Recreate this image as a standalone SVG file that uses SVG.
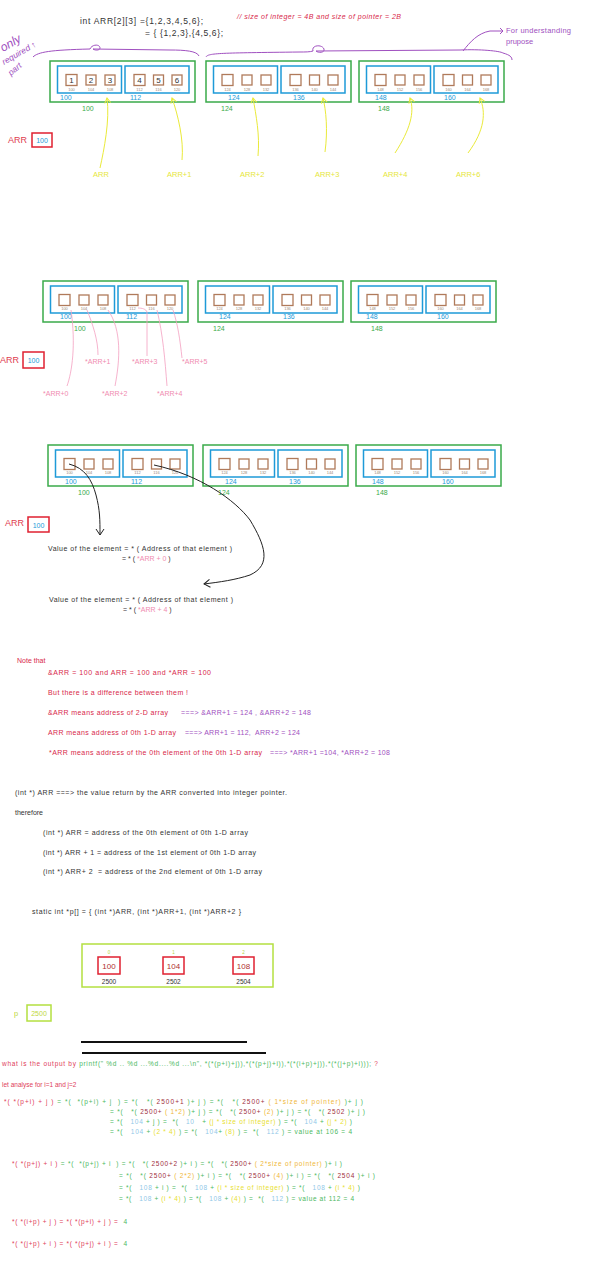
<svg xmlns="http://www.w3.org/2000/svg" width="600" height="1269" viewBox="0 0 600 1269">
<style>
text{font-family:"Liberation Sans",Arial,sans-serif;white-space:pre}
.gb{fill:none;stroke:#3aaa4a;stroke-width:1.5}
.bb{fill:none;stroke:#1e9ad8;stroke-width:1.5}
.sq{fill:#fff;stroke:#b07a5a;stroke-width:1.3}
.ad{font-size:4px;fill:#9a8878;text-anchor:middle}
.bl{font-size:7px;fill:#1e9ad8}
.gl{font-size:7px;fill:#3aaa4a}
.dk{fill:#333}
.rd{fill:#d8284a}
.pu{fill:#a050c0}
.pk{fill:#f08cb0}
.yl{fill:#e6e63a}
.R{fill:#e0405a}.G{fill:#4cb860}.DR{fill:#a03040}.O{fill:#f0b838}.LB{fill:#90c8e8}.Y{fill:#e8e030}
.ycur{fill:none;stroke:#eaea3a;stroke-width:1}
.pcur{fill:none;stroke:#f4a0c0;stroke-width:0.8}
.kcur{fill:none;stroke:#222;stroke-width:1}
</style>
<defs>
<g id="blk">
<rect class="gb" x="0" y="0" width="145" height="41"/>
<rect class="bb" x="7.5" y="5" width="64" height="27"/>
<rect class="bb" x="75" y="5" width="64" height="27"/>
<rect class="sq" x="16" y="13.5" width="11" height="11"/>
<rect class="sq" x="36" y="14" width="10" height="10"/>
<rect class="sq" x="55" y="14" width="10" height="10"/>
<rect class="sq" x="84" y="13.5" width="11" height="11"/>
<rect class="sq" x="103.5" y="14" width="10" height="10"/>
<rect class="sq" x="122" y="14" width="10" height="10"/>
</g>
<marker id="ya" markerWidth="8" markerHeight="8" refX="6" refY="4" orient="auto" markerUnits="userSpaceOnUse"><path d="M1,1 L6,4 L1,7" fill="none" stroke="#eaea3a" stroke-width="1"/></marker>
<marker id="ka" markerWidth="10" markerHeight="10" refX="7" refY="5" orient="auto" markerUnits="userSpaceOnUse"><path d="M1,1 L7,5 L1,9" fill="none" stroke="#222" stroke-width="1"/></marker>
</defs>
<rect width="600" height="1269" fill="#fff"/>

<!-- header -->
<g id="header">
<text class="dk" x="80" y="24" font-size="8.5" textLength="123">int ARR[2][3] ={1,2,3,4,5,6};</text>
<text class="dk" x="145" y="36" font-size="8.5" textLength="78">= { {1,2,3},{4,5,6};</text>
<text class="rd" x="237" y="19" font-size="7" font-style="italic" textLength="164">// size of integer = 4B and size of pointer = 2B</text>
<text class="pu" x="506" y="33" font-size="7.5" textLength="65">For understanding</text>
<text class="pu" x="506" y="44" font-size="7.5">prupose</text>
<g fill="#a050c0" font-style="italic">
<text transform="translate(3,52) rotate(-30)" font-size="12">only</text>
<text transform="translate(4,65) rotate(-30)" font-size="8.5">required ↑</text>
<text transform="translate(11,76) rotate(-40)" font-size="8.5">part</text>
</g>
<path d="M33,57 C38,52 50,50 90,49 C92,44 100,44 100,48 C100,50 96,51 93,49 L170,50 C185,50 197,51 199,56 M206,57 C208,53 220,53 300,52 C305,52 310,52 313,51 C311,45 322,44 324,49 C325,53 318,53 316,51 L460,50 C480,49 500,51 503,53 C510,55 512,57 512,60 M463,51 C470,42 478,33 490,31 L503,31 M500,28 L503,31 L500,34" fill="none" stroke="#a050c0" stroke-width="1"/>
</g>

<!-- section 1 -->
<g id="s1-b1">
<use href="#blk" x="50" y="61"/>
<g font-size="8" class="dk" text-anchor="middle"><text x="71.5" y="83">1</text><text x="91" y="83">2</text><text x="110" y="83">3</text><text x="139.5" y="83">4</text><text x="158.5" y="83">5</text><text x="177" y="83">6</text></g>
<g class="ad"><text x="71.5" y="91">100</text><text x="91" y="91">104</text><text x="110" y="91">108</text><text x="139.5" y="91">112</text><text x="158.5" y="91">116</text><text x="177" y="91">120</text></g>
<text class="bl" x="60" y="100">100</text><text class="bl" x="130" y="100">112</text>
<text class="gl" x="82" y="111">100</text>
</g>
<g id="s1-b2">
<use href="#blk" x="206" y="61"/>
<g class="ad"><text x="227.5" y="91">124</text><text x="247" y="91">128</text><text x="266" y="91">132</text><text x="295.5" y="91">136</text><text x="314.5" y="91">140</text><text x="333" y="91">144</text></g>
<text class="bl" x="228" y="100">124</text><text class="bl" x="293" y="100">136</text>
<text class="gl" x="221" y="111">124</text>
</g>
<g id="s1-b3">
<use href="#blk" x="359" y="61"/>
<g class="ad"><text x="380.5" y="91">148</text><text x="400" y="91">152</text><text x="419" y="91">156</text><text x="448.5" y="91">160</text><text x="467.5" y="91">164</text><text x="486" y="91">168</text></g>
<text class="bl" x="375" y="100">148</text><text class="bl" x="444" y="100">160</text>
<text class="gl" x="378" y="111">148</text>
</g>
<g id="s1-arr">
<text x="8" y="143" font-size="9" fill="#e04050">ARR</text>
<rect x="32" y="133" width="20" height="14" fill="#fff" stroke="#e02030" stroke-width="1.5"/>
<text class="bl" x="42" y="143" text-anchor="middle" font-size="8">100</text>
</g>
<g id="s1-labels" class="yl" font-size="7.5">
<text x="93" y="177">ARR</text><text x="167" y="177">ARR+1</text><text x="240" y="177">ARR+2</text><text x="315" y="177">ARR+3</text><text x="383" y="177">ARR+4</text><text x="456" y="177">ARR+6</text>
</g>
<g id="s1-connectors">
<path class="ycur" marker-end="url(#ya)" d="M100,168 C104,150 110,120 107,98"/>
<path class="ycur" marker-end="url(#ya)" d="M182,160 C184,140 178,115 172,98"/>
<path class="ycur" marker-end="url(#ya)" d="M258,156 C260,135 256,115 253,98"/>
<path class="ycur" marker-end="url(#ya)" d="M325,152 C328,130 326,110 323,98"/>
<path class="ycur" marker-end="url(#ya)" d="M395,153 C410,130 415,112 410,98"/>
<path class="ycur" marker-end="url(#ya)" d="M468,153 C485,130 486,112 480,98"/>
</g>

<!-- section 2 -->
<g id="s2-b1">
<use href="#blk" x="43" y="281"/>
<g class="ad"><text x="64.5" y="310">100</text><text x="84" y="310">104</text><text x="103" y="310">108</text><text x="132.5" y="310">112</text><text x="151.5" y="310">116</text><text x="170" y="310">120</text></g>
<text class="bl" x="60" y="319">100</text><text class="bl" x="126" y="319">112</text>
<text class="gl" x="74" y="331">100</text>
</g>
<g id="s2-b2">
<use href="#blk" x="198" y="281"/>
<g class="ad"><text x="219.5" y="310">124</text><text x="239" y="310">128</text><text x="258" y="310">132</text><text x="287.5" y="310">136</text><text x="306.5" y="310">140</text><text x="325" y="310">144</text></g>
<text class="bl" x="219" y="319">124</text><text class="bl" x="283" y="319">136</text>
<text class="gl" x="213" y="331">124</text>
</g>
<g id="s2-b3">
<use href="#blk" x="351" y="281"/>
<g class="ad"><text x="372.5" y="310">148</text><text x="392" y="310">152</text><text x="411" y="310">156</text><text x="440.5" y="310">160</text><text x="459.5" y="310">164</text><text x="478" y="310">168</text></g>
<text class="bl" x="366" y="319">148</text><text class="bl" x="437" y="319">160</text>
<text class="gl" x="371" y="331">148</text>
</g>
<g id="s2-arr">
<text x="0" y="363" font-size="9" fill="#e04050">ARR</text>
<rect x="23" y="352" width="21" height="16" fill="#fff" stroke="#e02030" stroke-width="1.5"/>
<text class="bl" x="33.5" y="363" text-anchor="middle" font-size="8">100</text>
</g>
<g id="s2-labels" class="pk" font-size="7">
<text x="43" y="396">*ARR+0</text><text x="85" y="364">*ARR+1</text><text x="102" y="396">*ARR+2</text><text x="132" y="364">*ARR+3</text><text x="157" y="396">*ARR+4</text><text x="182" y="364">*ARR+5</text>
</g>
<g id="s2-connectors">
<path class="pcur" d="M67,386 C72,372 76,345 71,310"/>
<path class="pcur" d="M98,355 C98,340 93,325 87,310"/>
<path class="pcur" d="M115,386 C120,360 122,330 108,310"/>
<path class="pcur" d="M147,356 L147,312 C146,309 142,308 138,308"/>
<path class="pcur" d="M167,386 C165,360 163,335 157,310"/>
<path class="pcur" d="M182,358 C180,340 178,325 173,310"/>
</g>

<!-- section 3 -->
<g id="s3-b1">
<use href="#blk" x="48" y="445"/>
<g class="ad"><text x="69.5" y="474">100</text><text x="89" y="474">104</text><text x="108" y="474">108</text><text x="137.5" y="474">112</text><text x="156.5" y="474">116</text><text x="175" y="474">120</text></g>
<text class="bl" x="65" y="484">100</text><text class="bl" x="131" y="484">112</text>
<text class="gl" x="78" y="495">100</text>
</g>
<g id="s3-b2">
<use href="#blk" x="203" y="445"/>
<g class="ad"><text x="224.5" y="474">124</text><text x="244" y="474">128</text><text x="263" y="474">132</text><text x="292.5" y="474">136</text><text x="311.5" y="474">140</text><text x="330" y="474">144</text></g>
<text class="bl" x="225" y="484">124</text><text class="bl" x="289" y="484">136</text>
<text class="gl" x="218" y="495">124</text>
</g>
<g id="s3-b3">
<use href="#blk" x="356" y="445"/>
<g class="ad"><text x="377.5" y="474">148</text><text x="397" y="474">152</text><text x="416" y="474">156</text><text x="445.5" y="474">160</text><text x="464.5" y="474">164</text><text x="483" y="474">168</text></g>
<text class="bl" x="372" y="484">148</text><text class="bl" x="442" y="484">160</text>
<text class="gl" x="376" y="495">148</text>
</g>
<g id="s3-arr">
<text x="5" y="526" font-size="9" fill="#e04050">ARR</text>
<rect x="28" y="517" width="21" height="15" fill="#fff" stroke="#e02030" stroke-width="1.5"/>
<text class="bl" x="38.5" y="527.5" text-anchor="middle" font-size="8">100</text>
</g>
<g id="s3-connectors">
<path class="kcur" marker-end="url(#ka)" d="M69,464 C85,468 92,480 96,495 C100,510 100,520 100,535"/>
<path class="kcur" marker-end="url(#ka)" d="M154,465 C200,475 235,500 250,520 C265,545 272,565 250,575 C235,580 220,582 204,584"/>
</g>
<g id="s3-text" font-size="7" class="dk">
<text x="48" y="551" textLength="184">Value of the element = * ( Address of that element )</text>
<text x="122" y="561">= * ( <tspan class="pk">*ARR + 0 </tspan>)</text>
<text x="49" y="602" textLength="184">Value of the element = * ( Address of that element )</text>
<text x="123" y="612">= * ( <tspan class="pk">*ARR + 4 </tspan>)</text>
</g>

<!-- note section -->
<g id="note" font-size="7">
<text class="rd" x="17" y="663">Note that</text>
<text class="rd" x="48" y="675" textLength="163">&amp;ARR = 100 and ARR = 100 and *ARR = 100</text>
<text class="rd" x="48" y="695" textLength="140">But there is a difference between them !</text>
<text class="rd" x="48" y="715" textLength="120">&amp;ARR means address of 2-D array</text>
<text class="pu" x="181" y="715" textLength="130">===&gt; &amp;ARR+1 = 124 , &amp;ARR+2 = 148</text>
<text class="rd" x="48" y="735" textLength="128">ARR means address of 0th 1-D array</text>
<text class="pu" x="185" y="735" textLength="115">===&gt; ARR+1 = 112,  ARR+2 = 124</text>
<text class="rd" x="49" y="755" textLength="213">*ARR means address of the 0th element of the 0th 1-D array</text>
<text class="pu" x="270" y="755" textLength="120">===&gt; *ARR+1 =104, *ARR+2 = 108</text>
</g>

<!-- int* section -->
<g id="cast" font-size="7" class="dk">
<text x="15" y="795" textLength="272">(int *) ARR ===&gt; the value return by the ARR converted into integer pointer.</text>
<text x="15" y="815">therefore</text>
<text x="43" y="835" textLength="205">(int *) ARR = address of the 0th element of 0th 1-D array</text>
<text x="43" y="855" textLength="213">(int *) ARR + 1 = address of the 1st element of 0th 1-D array</text>
<text x="43" y="874" textLength="219">(int *) ARR+ 2  = address of the 2nd element of 0th 1-D array</text>
<text x="32" y="914" textLength="209">static int *p[] = { (int *)ARR, (int *)ARR+1, (int *)ARR+2 }</text>
</g>

<!-- pointer array -->
<g id="parr">
<rect x="82" y="944" width="191" height="43" fill="none" stroke="#b4e040" stroke-width="1.5"/>
<g fill="#fff" stroke="#e02030" stroke-width="1.5">
<rect x="98" y="957" width="22" height="17"/><rect x="163" y="957" width="21" height="17"/><rect x="233" y="957" width="21" height="17"/>
</g>
<g font-size="8" fill="#b03030" text-anchor="middle"><text x="109" y="968.5">100</text><text x="173.5" y="968.5">104</text><text x="243.5" y="968.5">108</text></g>
<g font-size="4.5" fill="#b4d840" text-anchor="middle"><text x="109" y="954">0</text><text x="173.5" y="954">1</text><text x="243.5" y="954">2</text></g>
<g font-size="6.5" class="dk" text-anchor="middle"><text x="109" y="984">2500</text><text x="173.5" y="984">2502</text><text x="243.5" y="984">2504</text></g>
</g>
<g id="pvar">
<text x="14" y="1016" font-size="7.5" fill="#c0d840">p</text>
<rect x="27" y="1005" width="24" height="16" fill="#fff" stroke="#b4e040" stroke-width="1.5"/>
<text x="39" y="1016" font-size="7" fill="#c0d840" text-anchor="middle">2500</text>
</g>
<g id="rules" stroke="#111" stroke-width="1.8">
<line x1="81" y1="1042" x2="247" y2="1042"/>
<line x1="82" y1="1053" x2="266" y2="1053"/>
</g>

<!-- question -->
<g id="question" font-size="6.5">
<text x="2" y="1066" textLength="376"><tspan class="R">what is the output by </tspan><tspan class="G">printf(" %d .. %d ...%d....%d ...\n", *(*(p+i)+j)),*(*(p+j)+i)),*(*(i+p)+j)),*(*(j+p)+i))); </tspan><tspan class="R">?</tspan></text>
<text class="R" x="2" y="1087">let analyse for i=1 and j=2</text>
</g>

<!-- analysis 1 -->
<g id="eq1" font-size="6.5">
<text x="4" y="1104" textLength="359"><tspan class="R">*( *(p+i) + j )</tspan><tspan class="G"> = *(  *(p+i) + j  ) = *(   *( </tspan><tspan class="DR">2500+1</tspan><tspan class="G"> )+ j ) = *(   *( </tspan><tspan class="DR">2500+</tspan><tspan class="O"> ( 1*size of pointer) </tspan><tspan class="G">)+ j )</tspan></text>
<text x="110" y="1114" textLength="255"><tspan class="G">= *(   *( </tspan><tspan class="DR">2500+</tspan><tspan class="O"> ( 1*2) </tspan><tspan class="G">)+ j ) = *(   *( </tspan><tspan class="DR">2500+</tspan><tspan class="O"> (2) </tspan><tspan class="G">)+ j ) = *(   *( </tspan><tspan class="DR">2502</tspan><tspan class="G"> )+ j )</tspan></text>
<text x="110" y="1124" textLength="242"><tspan class="G">= *(   </tspan><tspan class="LB">104</tspan><tspan class="G"> + j ) =  *(   </tspan><tspan class="LB">10   </tspan><tspan class="G">+ </tspan><tspan class="Y">(j * size of integer)</tspan><tspan class="G"> ) = *(   </tspan><tspan class="LB">104</tspan><tspan class="G"> + </tspan><tspan class="Y">(j * 2)</tspan><tspan class="G"> )</tspan></text>
<text x="110" y="1134" textLength="242"><tspan class="G">= *(   </tspan><tspan class="LB">104</tspan><tspan class="G"> + </tspan><tspan class="Y">(2 * 4)</tspan><tspan class="G"> ) = *(   </tspan><tspan class="LB">104</tspan><tspan class="G">+ </tspan><tspan class="Y">(8)</tspan><tspan class="G"> ) =  *(   </tspan><tspan class="LB">112</tspan><tspan class="G"> ) = value at 106 = 4</tspan></text>
</g>

<!-- analysis 2 -->
<g id="eq2" font-size="6.5">
<text x="12" y="1166" textLength="330"><tspan class="R">*( *(p+j) + i )</tspan><tspan class="G"> = *(  *(p+j) + i  ) = *(   *( </tspan><tspan class="DR">2500+2</tspan><tspan class="G"> )+ i ) = *(   *( </tspan><tspan class="DR">2500+</tspan><tspan class="O"> ( 2*size of pointer) </tspan><tspan class="G">)+ i )</tspan></text>
<text x="119" y="1178" textLength="256"><tspan class="G">= *(   *( </tspan><tspan class="DR">2500+</tspan><tspan class="O"> ( 2*2) </tspan><tspan class="G">)+ i ) = *(   *( </tspan><tspan class="DR">2500+</tspan><tspan class="O"> (4) </tspan><tspan class="G">)+ i ) = *(   *( </tspan><tspan class="DR">2504</tspan><tspan class="G"> )+ i )</tspan></text>
<text x="119" y="1190" textLength="241"><tspan class="G">= *(   </tspan><tspan class="LB">108</tspan><tspan class="G"> + i ) =  *(   </tspan><tspan class="LB">108</tspan><tspan class="G"> + </tspan><tspan class="Y">(i * size of integer)</tspan><tspan class="G"> ) = *(   </tspan><tspan class="LB">108</tspan><tspan class="G"> + </tspan><tspan class="Y">(i * 4)</tspan><tspan class="G"> )</tspan></text>
<text x="119" y="1201" textLength="235"><tspan class="G">= *(   </tspan><tspan class="LB">108</tspan><tspan class="G"> + </tspan><tspan class="Y">(i * 4)</tspan><tspan class="G"> ) = *(   </tspan><tspan class="LB">108</tspan><tspan class="G"> + </tspan><tspan class="Y">(4)</tspan><tspan class="G"> ) =  *(   </tspan><tspan class="LB">112</tspan><tspan class="G"> ) = value at 112 = 4</tspan></text>
<text x="12" y="1224" textLength="115"><tspan class="R">*( *(i+p) + j ) = *( *(p+i) + j ) = </tspan><tspan class="G"> 4</tspan></text>
<text x="12" y="1246" textLength="115"><tspan class="R">*( *(j+p) + i ) = *( *(p+j) + i ) = </tspan><tspan class="G"> 4</tspan></text>
</g>
</svg>
